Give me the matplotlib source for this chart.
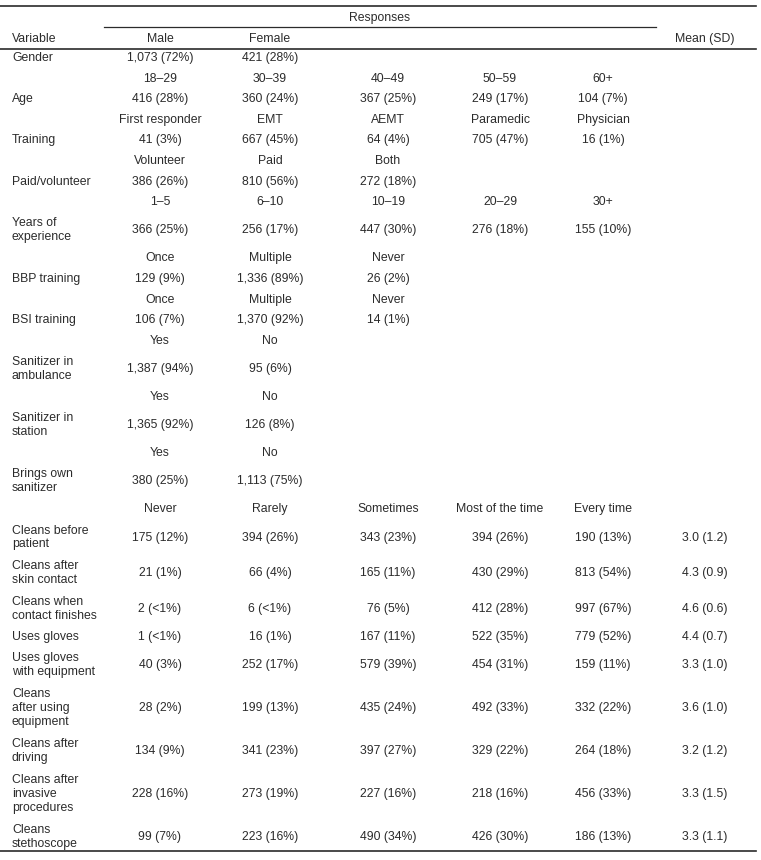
import matplotlib
matplotlib.use("Agg")
from matplotlib import pyplot as plt

gender_opts = ["Male", "Female"]
gender_n = [1073, 421]
gender_pct = [72, 28]

cat_labels = ["Age", "Training", "Paid/volunteer", "Years of\nexperience", "BBP training",
              "BSI training", "Sanitizer in\nambulance", "Sanitizer in\nstation", "Brings own\nsanitizer"]
cat_opts = [["18\u201329", "30\u201339", "40\u201349", "50\u201359", "60+"],
            ["First responder", "EMT", "AEMT", "Paramedic", "Physician"],
            ["Volunteer", "Paid", "Both"],
            ["1\u20135", "6\u201310", "10\u201319", "20\u201329", "30+"],
            ["Once", "Multiple", "Never"],
            ["Once", "Multiple", "Never"],
            ["Yes", "No"],
            ["Yes", "No"],
            ["Yes", "No"]]
cat_n = [[416, 360, 367, 249, 104],
         [41, 667, 64, 705, 16],
         [386, 810, 272],
         [366, 256, 447, 276, 155],
         [129, 1336, 26],
         [106, 1370, 14],
         [1387, 95],
         [1365, 126],
         [380, 1113]]
cat_pct = [[28, 24, 25, 17, 7],
           [3, 45, 4, 47, 1],
           [26, 56, 18],
           [25, 17, 30, 18, 10],
           [9, 89, 2],
           [7, 92, 1],
           [94, 6],
           [92, 8],
           [25, 75]]

likert_opts = ["Never", "Rarely", "Sometimes", "Most of the time", "Every time"]
likert_labels = ["Cleans before\npatient", "Cleans after\nskin contact", "Cleans when\ncontact finishes",
                 "Uses gloves", "Uses gloves\nwith equipment", "Cleans\nafter using\nequipment",
                 "Cleans after\ndriving", "Cleans after\ninvasive\nprocedures", "Cleans\nstethoscope"]
# 0 means "<1"
likert_n = [[175, 394, 343, 394, 190],
            [21, 66, 165, 430, 813],
            [2, 6, 76, 412, 997],
            [1, 16, 167, 522, 779],
            [40, 252, 579, 454, 159],
            [28, 199, 435, 492, 332],
            [134, 341, 397, 329, 264],
            [228, 273, 227, 218, 456],
            [99, 223, 490, 426, 186]]
likert_pct = [[12, 26, 23, 26, 13],
              [1, 4, 11, 29, 54],
              [0, 0, 5, 28, 67],
              [0, 1, 11, 35, 52],
              [3, 17, 39, 31, 11],
              [2, 13, 24, 33, 22],
              [9, 23, 27, 22, 18],
              [16, 19, 16, 16, 33],
              [7, 16, 34, 30, 13]]
means = [3.0, 4.3, 4.6, 4.4, 3.3, 3.6, 3.2, 3.3, 3.3]
sds = [1.2, 0.9, 0.6, 0.7, 1.0, 1.0, 1.2, 1.5, 1.1]


def cell(n, p):
    ps = "<1" if p < 1 else str(p)
    return f"{n:,} ({ps}%)"


# build rows: (label, cells, mean)
rows = [("Gender", [cell(n, p) for n, p in zip(gender_n, gender_pct)], "")]
for lab, opts, ns, ps in zip(cat_labels, cat_opts, cat_n, cat_pct):
    rows.append(("", opts, ""))
    rows.append((lab, [cell(n, p) for n, p in zip(ns, ps)], ""))
rows.append(("", likert_opts, ""))
for lab, ns, ps, m, s in zip(likert_labels, likert_n, likert_pct, means, sds):
    rows.append((lab, [cell(n, p) for n, p in zip(ns, ps)], f"{m:.1f} ({s:.1f})"))

# ---- drawing ----
W, H = 761, 860
fig = plt.figure(figsize=(W / 100, H / 100), dpi=100)
ax = fig.add_axes([0, 0, 1, 1])
ax.set_xlim(0, W)
ax.set_ylim(H, 0)
ax.axis("off")

color = "#2b2b2b"
fs = 8.8
font = "Liberation Sans"
col_x = [160, 270, 388, 500, 603]
mean_x = 705
var_x = 12
base_h = 20.6
line_h = 15.0

kw = dict(fontsize=fs, family=font, color=color, linespacing=1.2)

# header
ax.plot([0, 756], [6, 6], color=color, lw=1.2)
ax.text(380, 18, "Responses", ha="center", va="center", **kw)
ax.plot([104, 656], [27, 27], color=color, lw=0.9)
ax.text(var_x, 39, "Variable", ha="left", va="center", **kw)
for x, o in zip(col_x, gender_opts):
    ax.text(x, 39, o, ha="center", va="center", **kw)
ax.text(mean_x, 39, "Mean (SD)", ha="center", va="center", **kw)
ax.plot([0, 756], [49, 49], color=color, lw=1.2)

y = 58 - base_h / 2
for lab, cells, mean in rows:
    nl = lab.count("\n") + 1
    h = base_h + line_h * (nl - 1)
    yc = y + h / 2
    if lab:
        ax.text(var_x, yc, lab, ha="left", va="center", **kw)
    for x, c in zip(col_x, cells):
        ax.text(x, yc, c, ha="center", va="center", **kw)
    if mean:
        ax.text(mean_x, yc, mean, ha="center", va="center", **kw)
    y += h

ax.plot([0, 756], [y - 4.5, y - 4.5], color=color, lw=1.2)

fig.savefig("out.png", dpi=100)
